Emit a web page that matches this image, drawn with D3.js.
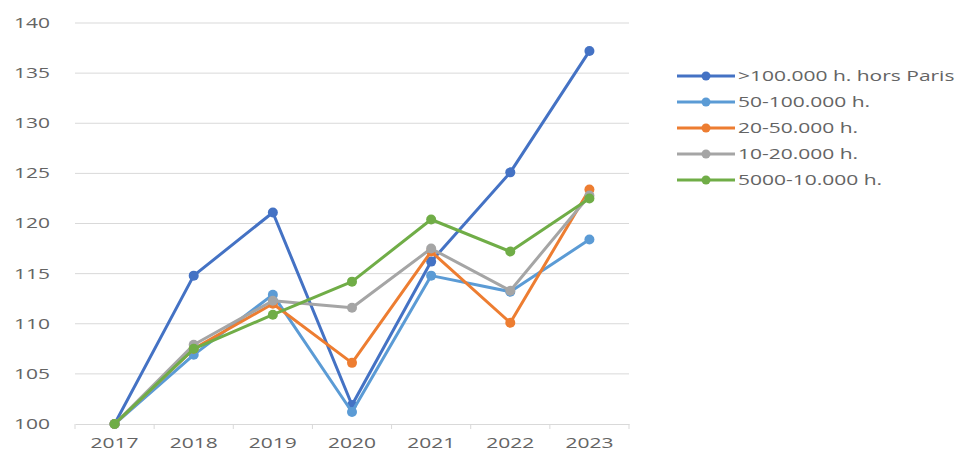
<!DOCTYPE html>
<html lang="en">
<head>
	<meta charset="UTF-8">
	<title>Indice 2017-2023</title>
	<script src="https://cdn.jsdelivr.net/npm/d3@7/dist/d3.min.js"></script>
	<style>
		body { margin: 0; background: #fff; }
		text { font-family: "Open Sans", "DejaVu Sans", sans-serif; fill: #646464; }
	</style>
</head>
<body>
	<div id="container"></div>
	<script>
		var width = 966, height = 454;

		var years = ["2017", "2018", "2019", "2020", "2021", "2022", "2023"];
		var yTicks = [100, 105, 110, 115, 120, 125, 130, 135, 140];

		var seriesNames = [">100.000 h. hors Paris", "50-100.000 h.", "20-50.000 h.", "10-20.000 h.", "5000-10.000 h."];
		var seriesColors = ["#4472c4", "#5b9bd5", "#ed7d31", "#a5a5a5", "#70ad47"];

		var big = [100, 114.8, 121.1, 101.9, 116.2, 125.1, 137.2];
		var mid = [100, 106.9, 112.9, 101.2, 114.8, 113.2, 118.4];
		var small = [100, 107.5, 112.0, 106.1, 117.2, 110.1, 123.4];
		var town = [100, 107.9, 112.3, 111.6, 117.5, 113.3, 122.8];
		var village = [100, 107.5, 110.9, 114.2, 120.4, 117.2, 122.5];

		var seriesValues = [big, mid, small, town, village];

		// the text in the picture is drawn wide, so stretch it sideways
		var stretch = "scale(1.5,1)";

		var svg = d3.select("#container").append("svg")
				.attr("width", width)
				.attr("height", height);

		var x = d3.scaleBand()
				.domain(years)
				.range([75, 629]);
		var y = d3.scaleLinear()
				.domain([100, 140])
				.range([424, 23]);

		// gridlines
		svg.selectAll(".grid").data(yTicks.slice(1))
			.enter().append("line")
				.attr("x1", 75)
				.attr("x2", 629)
				.attr("y1", d => y(d))
				.attr("y2", d => y(d))
				.attr("stroke", "#d9d9d9")
				.attr("stroke-width", 1);

		// y labels
		svg.selectAll(".ylab").data(yTicks)
			.enter().append("text")
				.attr("transform", d => "translate(50," + y(d) + ") " + stretch)
				.attr("dy", "0.35em")
				.attr("text-anchor", "end")
				.style("font-size", "14px")
				.text(d => d);

		// x axis
		var xAxis = svg.append("g")
				.attr("transform", "translate(0," + y(100) + ")")
				.call(d3.axisBottom(x).tickSize(0).tickPadding(14));
		xAxis.select(".domain").attr("stroke", "#d9d9d9");
		xAxis.selectAll("text")
				.attr("transform", stretch)
				.attr("fill", "#646464")
				.style("font-size", "14px")
				.style("font-family", "'Open Sans', 'DejaVu Sans', sans-serif");

		var edges = years.map(d => x(d)).concat([x.range()[1]]);
		svg.selectAll(".xtick").data(edges)
			.enter().append("line")
				.attr("x1", d => d)
				.attr("x2", d => d)
				.attr("y1", y(100))
				.attr("y2", y(100) + 5)
				.attr("stroke", "#d9d9d9");

		var line = d3.line()
				.x((d, i) => x(years[i]) + x.bandwidth() / 2)
				.y(d => y(d));

		seriesValues.forEach(function(vals, k) {
			var g = svg.append("g");
			g.append("path")
				.datum(vals)
				.attr("d", line)
				.attr("fill", "none")
				.attr("stroke", seriesColors[k])
				.attr("stroke-width", 3)
				.attr("stroke-linejoin", "round");
			g.selectAll("circle").data(vals)
				.enter().append("circle")
					.attr("cx", (d, i) => x(years[i]) + x.bandwidth() / 2)
					.attr("cy", d => y(d))
					.attr("r", 5)
					.attr("fill", seriesColors[k]);
		});

		// legend
		var legend = svg.append("g");
		seriesNames.forEach(function(name, k) {
			var ly = 76 + k * 26;
			legend.append("line")
				.attr("x1", 677).attr("x2", 735)
				.attr("y1", ly).attr("y2", ly)
				.attr("stroke", seriesColors[k])
				.attr("stroke-width", 3);
			legend.append("circle")
				.attr("cx", 706).attr("cy", ly).attr("r", 4.5)
				.attr("fill", seriesColors[k]);
			legend.append("text")
				.attr("transform", "translate(738," + ly + ") " + stretch)
				.attr("dy", "0.35em")
				.style("font-size", "14px")
				.text(name);
		});
	</script>
</body>
</html>
